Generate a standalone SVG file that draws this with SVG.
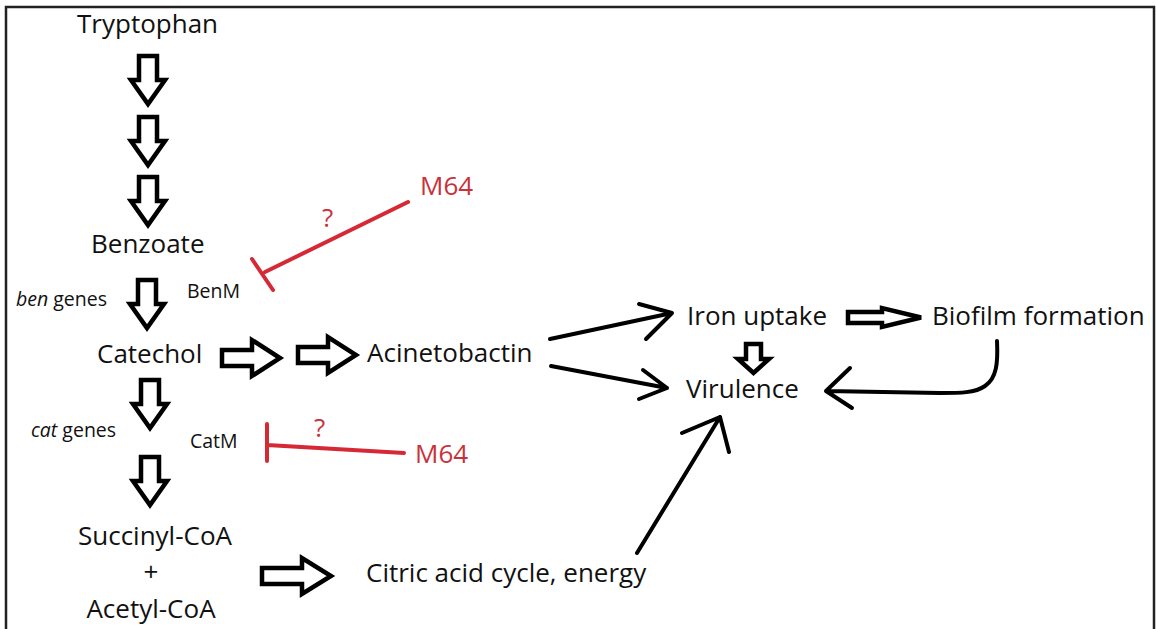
<svg xmlns="http://www.w3.org/2000/svg" width="1156" height="629" viewBox="0 0 1156 629">
<style>
text{font-family:"Open Sans","Liberation Sans",sans-serif;fill:#111}
.m{font-size:26px}
.s{font-size:19.5px}
.r{fill:#c9313b}
.blk{fill:#fff;stroke:#000;stroke-width:4.5;stroke-linejoin:miter}
.ln{fill:none;stroke:#000;stroke-width:4;stroke-linecap:round;stroke-linejoin:round}
.inh{fill:none;stroke:#d52a35;stroke-width:4;stroke-linecap:round}
</style>
<defs>
<path id="dn" d="M-9,0 H9 V24 H17 L0,48 L-17,24 H-9 Z"/>
<path id="rt" d="M0,-8 H30 V-18 L58,0 L30,18 V8 H0 Z"/>
</defs>
<rect width="1156" height="629" fill="#fff"/>
<path d="M6,629 V7 H1154 V629" fill="none" stroke="#222" stroke-width="2.5"/>

<g id="tryptophan"><text class="m" x="77" y="33">Tryptophan</text></g>
<g id="benzoate"><text class="m" x="91" y="253">Benzoate</text></g>
<g id="ben-genes"><text class="s" x="16" y="306"><tspan font-style="italic">ben</tspan> genes</text></g>
<g id="benm"><text class="s" x="187" y="298">BenM</text></g>
<g id="catechol"><text class="m" x="97" y="363">Catechol</text></g>
<g id="cat-genes"><text class="s" x="31" y="437"><tspan font-style="italic">cat</tspan> genes</text></g>
<g id="catm"><text class="s" x="190" y="448">CatM</text></g>
<g id="succinyl"><text class="m" x="155" y="545" text-anchor="middle">Succinyl-CoA</text><text class="m" x="151" y="581" text-anchor="middle">+</text><text class="m" x="151" y="618" text-anchor="middle">Acetyl-CoA</text></g>
<g id="citric"><text class="m" x="366" y="582">Citric acid cycle, energy</text></g>
<g id="acinetobactin"><text class="m" x="367" y="362">Acinetobactin</text></g>
<g id="iron-uptake"><text class="m" x="687" y="325">Iron uptake</text></g>
<g id="virulence"><text class="m" x="686" y="398">Virulence</text></g>
<g id="biofilm"><text class="m" x="932" y="325">Biofilm formation</text></g>
<g id="m64-upper"><text class="m r" x="420" y="195">M64</text></g>
<g id="m64-lower"><text class="m r" x="415" y="463">M64</text></g>

<g id="connectors">
<use href="#dn" class="blk" transform="translate(148,56)"/>
<use href="#dn" class="blk" transform="translate(148,117)"/>
<use href="#dn" class="blk" transform="translate(148,177)"/>
<use href="#dn" class="blk" transform="translate(147,280)"/>
<use href="#dn" class="blk" transform="translate(150,380)"/>
<use href="#dn" class="blk" transform="translate(150,457)"/>
<use href="#rt" class="blk" transform="translate(222,358)"/>
<use href="#rt" class="blk" transform="translate(298,355)"/>
<path class="blk" d="M262,568 H302 V558 L331,576 L302,594 V584 H262 Z"/>
<path class="blk" d="M848,312 H882 V308 L921,317.5 L882,327 V323 H848 Z" stroke-width="3.5"/>
<path class="blk" d="M746,344 H761 V359 H769 L753.5,373 L738,359 H746 Z" stroke-width="3.5"/>

<path class="ln" d="M550,339 L672,313 M639,304 L672,313 L646,339"/>
<path class="ln" d="M551,366 L667,388 M643,370 L667,388 L639,399"/>
<path class="ln" d="M637,553 L720,417 M682,433 L720,417 L729,452"/>
<path class="ln" d="M997,341 C998,362 997,378 985,386 C975,393 960,393 940,393 L826,391 M850,368 L826,391 L852,408"/>

<path class="inh" d="M408,202 L265,272 M252,259 L273,290"/>
<text class="m r" x="322" y="227" font-size="22">?</text>
<path class="inh" d="M404,453 L267,445 M267,424 V461"/>
<text class="m r" x="314" y="437" font-size="22">?</text>
</g>
</svg>
